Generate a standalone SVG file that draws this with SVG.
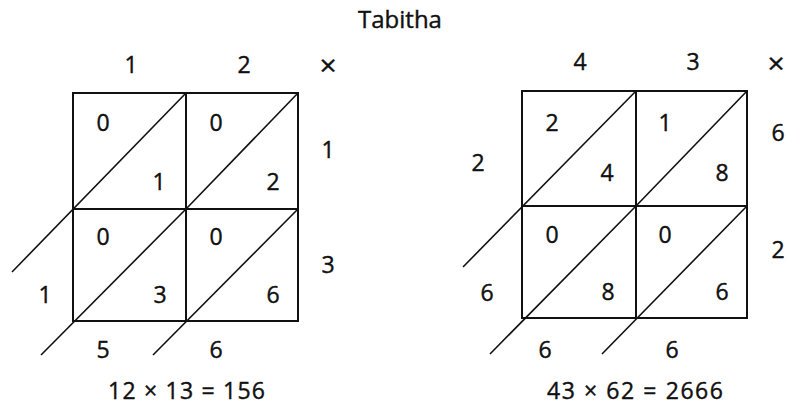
<svg xmlns="http://www.w3.org/2000/svg" width="787" height="405" viewBox="0 0 787 405">
<style>
.g{fill:none;stroke:#111;stroke-width:2}
.d{stroke:#111;stroke-width:1.6;fill:none}
text{font-family:"Open Sans","Liberation Sans",sans-serif;fill:#111;stroke:#111;stroke-width:0.4;text-anchor:middle}
.n{font-size:23px}
.x{font-size:30px}
.e{font-size:23px}
</style>
<rect width="787" height="405" fill="#fff"/>
<text id="title" x="400" y="28" font-size="24">Tabitha</text>

<g id="left">
  <g id="left-grid">
    <rect class="g" x="73" y="93" width="225" height="228"/>
    <line class="g" x1="186" y1="93" x2="186" y2="321"/>
    <line class="g" x1="73" y1="209" x2="298" y2="209"/>
  </g>
  <g id="left-diagonals">
    <line class="d" x1="12" y1="272" x2="186" y2="93"/>
    <line class="d" x1="186" y1="209" x2="298" y2="93"/>
    <line class="d" x1="41" y1="355" x2="186" y2="209"/>
    <line class="d" x1="153" y1="355" x2="298" y2="209"/>
  </g>
  <g id="left-labels" class="n">
    <text x="131" y="73">1</text>
    <text x="244" y="73">2</text>
    <text class="x" x="328" y="76">×</text>
    <text x="103" y="131">0</text>
    <text x="159" y="190">1</text>
    <text x="216" y="131">0</text>
    <text x="273" y="190">2</text>
    <text x="328" y="158">1</text>
    <text x="103" y="245">0</text>
    <text x="160" y="303">3</text>
    <text x="216" y="245">0</text>
    <text x="273" y="303">6</text>
    <text x="328" y="273">3</text>
    <text x="45" y="303">1</text>
    <text x="103" y="358">5</text>
    <text x="216" y="358">6</text>
  </g>
  <text id="left-eq" class="e" x="186.5" y="399" textLength="157" lengthAdjust="spacing">12 × 13 = 156</text>
</g>

<g id="right">
  <g id="right-grid">
    <rect class="g" x="522" y="91" width="225" height="227"/>
    <line class="g" x1="636" y1="91" x2="636" y2="318"/>
    <line class="g" x1="522" y1="206" x2="747" y2="206"/>
  </g>
  <g id="right-diagonals">
    <line class="d" x1="463" y1="267" x2="636" y2="91"/>
    <line class="d" x1="636" y1="206" x2="747" y2="91"/>
    <line class="d" x1="490" y1="354" x2="636" y2="206"/>
    <line class="d" x1="602" y1="354" x2="747" y2="206"/>
  </g>
  <g id="right-labels" class="n">
    <text x="580" y="70">4</text>
    <text x="693" y="70">3</text>
    <text class="x" x="776" y="74">×</text>
    <text x="552" y="131">2</text>
    <text x="607" y="181">4</text>
    <text x="665" y="131">1</text>
    <text x="722" y="181">8</text>
    <text x="778" y="141">6</text>
    <text x="478" y="171">2</text>
    <text x="552" y="243">0</text>
    <text x="608" y="300">8</text>
    <text x="665" y="243">0</text>
    <text x="722" y="300">6</text>
    <text x="778" y="258">2</text>
    <text x="487" y="301">6</text>
    <text x="545" y="358">6</text>
    <text x="672" y="358">6</text>
  </g>
  <text id="right-eq" class="e" x="635" y="399" textLength="176" lengthAdjust="spacing">43 × 62 = 2666</text>
</g>
</svg>
